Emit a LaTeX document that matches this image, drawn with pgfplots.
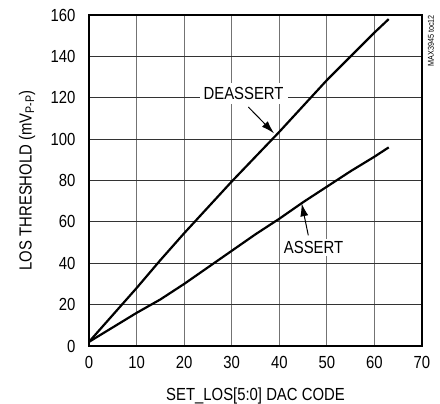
\documentclass[border=0pt]{standalone}
\usepackage{fontspec}
\setmainfont{Liberation Sans}[FakeStretch=0.85]
\usepackage{pgfplots}
\pgfplotsset{compat=1.18}
\usetikzlibrary{arrows.meta}

\newcommand{\lblfont}{\fontsize{17.5}{20}\selectfont}

\begin{document}
\begin{tikzpicture}
\begin{axis}[
  at={(0,0)}, anchor=south west,
  scale only axis, width=333pt, height=331pt,
  xmin=0, xmax=70, ymin=0, ymax=160,
  xtick={0,10,...,70}, ytick={0,20,...,160},
  grid=major,
  major x grid style={black!55, line width=0.8pt},
  major y grid style={black!80, line width=0.8pt},
  axis line style={line width=2.4pt},
  tick style={draw=none},
  /pgf/number format/assume math mode=true,
  tick label style={font=\lblfont},
  xticklabel style={yshift=-7pt},
  yticklabel style={xshift=-10pt},
  clip=false,
]
  % deassert
  \addplot[black, line width=2.2pt] table {
    0 2
    5 15
    10 28
    15 41.5
    20 54.5
    25 67
    30 79.5
    35 91.5
    40 103.5
    45 116
    50 128.5
    55 140
    60 151.5
    63 158
  };
  % assert
  \addplot[black, line width=2.2pt] table {
    0 2
    5 9
    10 16
    15 22.5
    20 30
    25 38
    30 46
    35 54
    40 61.5
    45 69.5
    50 77
    55 84.5
    60 91.5
    63 96
  };

  \node[fill=white, inner sep=4pt, font=\lblfont] at (axis cs:32.5,122) {DEASSERT};
  \draw[line width=1pt, -{Latex[length=13pt,width=8pt]}] (axis cs:33.5,115.5) -- (axis cs:38.9,102.8);

  \node[fill=white, inner sep=2pt, font=\lblfont] at (axis cs:47.2,47.7) {ASSERT};
  \draw[line width=1pt, -{Latex[length=13pt,width=8pt]}] (axis cs:46.1,53.5) -- (axis cs:44.7,69);

  \node[rotate=90, anchor=east, font=\fontsize{8.5}{10}\selectfont, inner sep=0pt]
    at ([xshift=9pt]rel axis cs:1,1) {MAX3945 toc12};

  \node[font=\lblfont, anchor=center] at ([yshift=-50pt]rel axis cs:0.5,0) {SET\_LOS[5:0] DAC CODE};
  \node[font=\lblfont, anchor=center, rotate=90] at ([xshift=-62pt]rel axis cs:0,0.5)
    {LOS THRESHOLD (mV\raisebox{-2.5pt}{\fontsize{12.5}{13}\selectfont P-P})};
\end{axis}
\pgfresetboundingbox
\path (-89pt,-58pt) rectangle (351pt,346pt);
\end{tikzpicture}
\end{document}
